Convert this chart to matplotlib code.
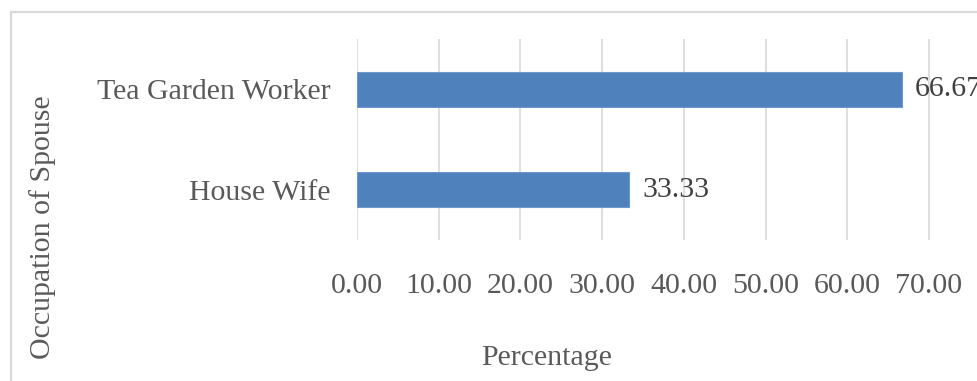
import matplotlib
matplotlib.use("Agg")
import matplotlib.pyplot as plt
from matplotlib.patches import Rectangle

# Data
categories = ["House Wife", "Tea Garden Worker"]
percentages = [33.33, 66.67]
tick_values = [0, 10, 20, 30, 40, 50, 60, 70]
tick_labels = ["0.00", "10.00", "20.00", "30.00", "40.00", "50.00", "60.00", "70.00"]

plt.rcParams["font.family"] = ["Liberation Serif", "DejaVu Serif"]
text_color = "#595959"
grid_color = "#d9d9d9"
bar_color = "#4f81bd"
fs = 21.5

W, H = 978, 381
fig = plt.figure(figsize=(W / 100, H / 100), dpi=100)

# chart-area border
fig.patches.append(Rectangle((11 / W, -0.1), 2.0, (H - 12) / H + 0.1,
                             transform=fig.transFigure, fill=False,
                             edgecolor=grid_color, linewidth=1.6))

left, right, top, bottom = 357, 1010.6, 39, 240
ax = fig.add_axes([left / W, (H - bottom) / H, (right - left) / W, (bottom - top) / H])

ypos = range(len(categories))
bars = ax.barh(ypos, percentages, height=0.35, color=bar_color,
               edgecolor="#6f97cc", linewidth=0.8, zorder=3)

for b, v in zip(bars, percentages):
    ax.annotate(f"{v:.2f}", (b.get_width(), b.get_y() + b.get_height() / 2),
                xytext=(9.5, 0), textcoords="offset points",
                ha="left", va="center", fontsize=fs, color="#404040",
                annotation_clip=False)

ax.set_xlim(0, 80)
ax.set_ylim(-0.5, 1.5)
ax.set_xticks(tick_values)
ax.set_xticklabels(tick_labels)
ax.set_yticks(list(ypos))
ax.set_yticklabels(categories)
ax.tick_params(axis="x", length=0, pad=23.5, labelsize=fs, labelcolor=text_color)
ax.tick_params(axis="y", length=0, pad=19, labelsize=fs, labelcolor=text_color)

# gridline at the axis maximum
ax.axvline(80, color=grid_color, linewidth=1.2, zorder=0)
ax.grid(axis="x", color=grid_color, linewidth=1.2, zorder=0)
for s in ax.spines.values():
    s.set_visible(False)

ax.set_xlabel("Percentage", fontsize=fs, color=text_color)
ax.xaxis.set_label_coords((547 - left) / (right - left), -(358 - bottom) / (bottom - top))
ax.xaxis.label.set_va("center")
ax.set_ylabel("Occupation of Spouse", fontsize=fs, color=text_color)
ax.yaxis.set_label_coords((43 - left) / (right - left), (bottom - 227) / (bottom - top))
ax.yaxis.label.set_va("center")

fig.savefig("out.png", dpi=100)
